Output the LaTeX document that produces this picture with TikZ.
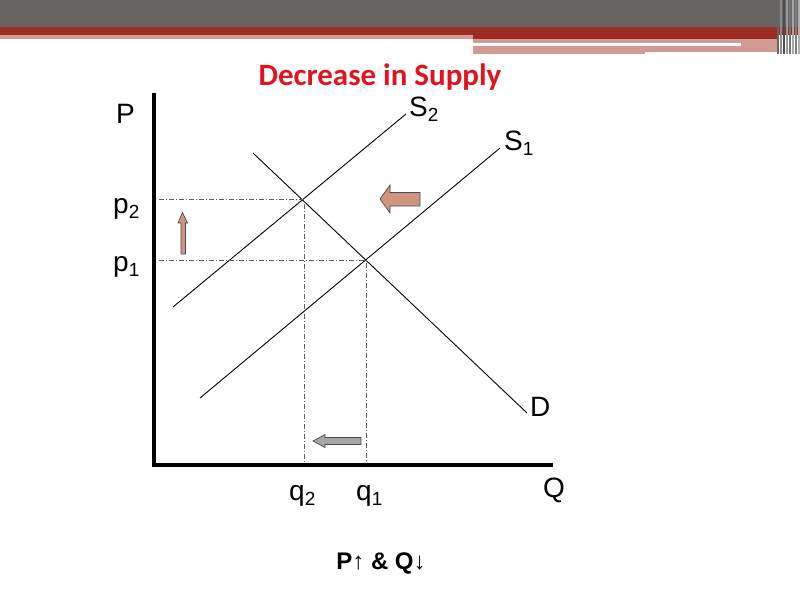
\documentclass[tikz,border=0pt]{standalone}
\usepackage{fontspec}
\setmainfont{Liberation Sans}
\newfontfamily\titlefont{Carlito}
\definecolor{bannergray}{HTML}{686462}
\definecolor{bannerred}{HTML}{9B2D22}
\definecolor{bannerpink}{HTML}{D39A93}
\definecolor{titlered}{HTML}{E0141E}
\definecolor{arrowpink}{HTML}{CF957F}
\definecolor{arrowgray}{HTML}{A6A6A6}
\newcommand{\sbs}[1]{\raisebox{-0.2em}{\fontsize{19}{19}\selectfont #1}}
\tikzset{
  lbl/.style={inner sep=0pt, anchor=base west, font=\fontsize{28}{32}\selectfont},
  curve/.style={line width=0.9pt, black},
  guide/.style={line width=1pt, gray!75!black, dash pattern=on 5pt off 2pt on 1pt off 2pt},
  axis/.style={line width=4pt, black},
  blockarrow/.style={draw=black!70, line width=0.7pt, line join=miter}
}
\begin{document}
\begin{tikzpicture}[x=1pt,y=-1pt]
\useasboundingbox (0,0) rectangle (800,600);
% banner
\fill[bannergray] (0,0) rectangle (800,27);
\fill[bannerred] (0,27) rectangle (800,35);
\fill[bannerpink] (0,35) rectangle (473,39);
\fill[bannerred] (473,35) rectangle (777,39);
\fill[bannerpink] (473,39) rectangle (777,52);
\fill[white] (473,43) rectangle (741,46);
\fill[bannerpink] (473,52) rectangle (645,54);
\foreach \x/\c in {777/60,780/45,783/70,786/40,789/55,792/35,795/50,798/30}
  \fill[black!\c] (\x,0) rectangle ++(2,54);
% title
\node[anchor=base, inner sep=0pt, text=titlered, font=\titlefont\bfseries\fontsize{31}{36}\selectfont] (title) at (380,85) {Decrease in Supply};
% axes
\coordinate (origin) at (154,465);
\coordinate (ytop) at (154,93);
\coordinate (xend) at (553,465);
\draw[axis] (ytop) -- (origin) -- (xend);
% curves
\coordinate (s2a) at (173,307);
\coordinate (s2b) at (406,114);
\coordinate (s1a) at (200,398);
\coordinate (s1b) at (500,148);
\coordinate (da) at (253,153);
\coordinate (db) at (527,413);
\draw[curve] (s2a) -- (s2b);
\draw[curve] (s1a) -- (s1b);
\draw[curve] (da) -- (db);
% equilibria
\coordinate (e2) at (304,199);
\coordinate (e1) at (366,260);
\coordinate (p2y) at (159,199);
\coordinate (p1y) at (159,260);
\coordinate (q2x) at (304,463);
\coordinate (q1x) at (366,463);
\draw[guide] (p2y) -- (e2) -- (q2x);
\draw[guide] (p1y) -- (e1) -- (q1x);
% labels
\node[lbl] (lP) at (116,123) {P};
\node[lbl] (lS2) at (409,116) {S\sbs{2}};
\node[lbl] (lS1) at (504,150) {S\sbs{1}};
\node[lbl] (lp2) at (113,213) {p\sbs{2}};
\node[lbl] (lp1) at (113,271) {p\sbs{1}};
\node[lbl] (lD) at (530,416) {D};
\node[lbl] (lQ) at (543,497) {Q};
\node[lbl] (lq2) at (289,500) {q\sbs{2}};
\node[lbl] (lq1) at (356,500) {q\sbs{1}};
\node[inner sep=0pt, anchor=base, font=\fontsize{24}{28}\selectfont] (summary) at (381,569) {\textbf{P}↑ \textbf{\&} \textbf{Q}↓};
% shift arrows
\filldraw[blockarrow, fill=arrowpink] (182.5,212.5) -- (187.5,223) -- (185.5,223) -- (185.5,254) -- (181,254) -- (181,223) -- (178,223) -- cycle;
\filldraw[blockarrow, fill=arrowpink] (380,199) -- (390,185) -- (390,192.5) -- (420,192.5) -- (420,206) -- (390,206) -- (390,213) -- cycle;
\filldraw[blockarrow, fill=arrowgray] (313,441) -- (325,434.5) -- (325,437.5) -- (361,437.5) -- (361,444.5) -- (325,444.5) -- (325,447.5) -- cycle;
\end{tikzpicture}
\end{document}
